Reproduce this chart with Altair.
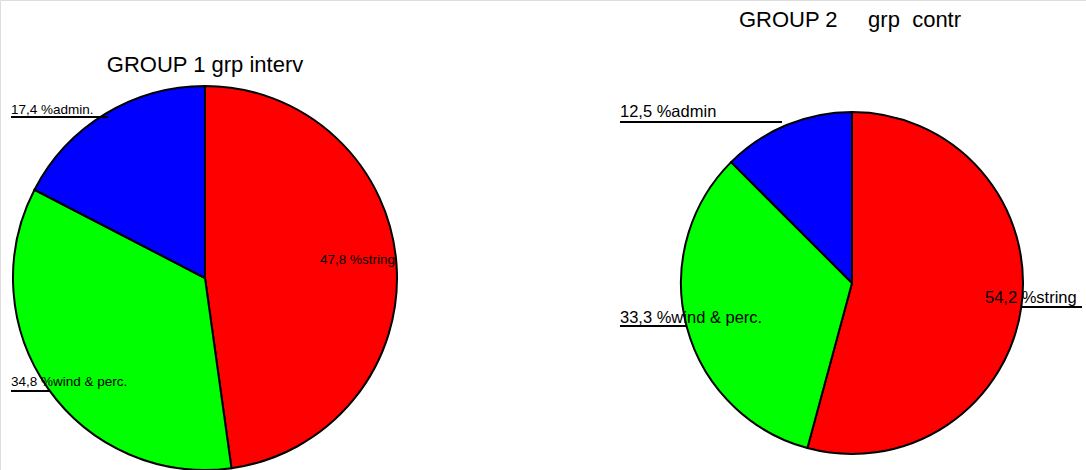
import altair as alt
import pandas as pd

# ---- data ----
categories = ["string", "wind & perc.", "admin"]
group1_values = [47.8, 34.8, 17.4]
group2_values = [54.2, 33.3, 12.5]
group1_labels = ["47,8 %string", "34,8 %wind & perc.", "17,4 %admin."]
group2_labels = ["54,2 %string", "33,3 %wind & perc.", "12,5 %admin"]
titles = ["GROUP 1 grp interv", "GROUP 2\u00a0\u00a0\u00a0\u00a0 grp\u00a0 contr"]
colors = ["#ff0000", "#00ff00", "#0000ff"]

# ---- layout (pixels) ----
W, H = 1086, 470
pie_centers = [(205, 278), (852, 283)]
pie_radius = [192, 171]
title_pos = [(205, 72), (850, 27)]
title_size = 22
label_sizes = [13.5, 16.5]
# label anchor (x, baseline y) per slice
label_pos = [
    [(320, 264), (11, 386), (11, 114)],
    [(985, 303), (620, 323), (620, 117)],
]
# leader rule (x1, x2, y) per slice; None if no visible rule
rule_pos = [
    [None, (11, 50, 391), (11, 108, 117)],
    [(1021, 1082, 307), (620, 686, 326), (620, 782, 122)],
]
FONT = "Liberation Sans"

xs = alt.Scale(domain=[0, W], range=[0, W], nice=False, zero=False)
ys = alt.Scale(domain=[0, H], range=[0, H], nice=False, zero=False)
color_scale = alt.Scale(domain=categories, range=colors)

layers = []
for g, vals in enumerate([group1_values, group2_values]):
    df = pd.DataFrame({"cat": categories, "value": vals, "ord": list(range(len(vals)))})
    cx, cy = pie_centers[g]
    arc = alt.Chart(df).mark_arc(
        radius=pie_radius[g], stroke="black", strokeWidth=2
    ).encode(
        theta=alt.Theta("value:Q", stack=True),
        color=alt.Color("cat:N", scale=color_scale, legend=None),
        order=alt.Order("ord:Q"),
        x=alt.value(cx),
        y=alt.value(cy),
    )
    layers.append(arc)

lab_rows = []
rule_rows = []
for g, labs in enumerate([group1_labels, group2_labels]):
    for i, t in enumerate(labs):
        x, y = label_pos[g][i]
        lab_rows.append({"text": t, "x": x, "y": y, "g": g})
        r = rule_pos[g][i]
        if r is not None:
            rule_rows.append({"x": r[0], "x2": r[1], "y": r[2]})

lab_df = pd.DataFrame(lab_rows)
rule_df = pd.DataFrame(rule_rows)
title_df = pd.DataFrame({"text": titles, "x": [p[0] for p in title_pos], "y": [p[1] for p in title_pos]})

for g in range(2):
    sub = lab_df[lab_df.g == g]
    layers.append(
        alt.Chart(sub).mark_text(
            align="left", baseline="alphabetic", font=FONT, fontSize=label_sizes[g], color="black"
        ).encode(
            x=alt.X("x:Q", scale=xs, axis=None),
            y=alt.Y("y:Q", scale=ys, axis=None),
            text="text:N",
        )
    )

layers.append(
    alt.Chart(rule_df).mark_rule(color="black", strokeWidth=2).encode(
        x=alt.X("x:Q", scale=xs, axis=None),
        x2="x2:Q",
        y=alt.Y("y:Q", scale=ys, axis=None),
    )
)

layers.append(
    alt.Chart(title_df).mark_text(
        align="center", baseline="alphabetic", font=FONT, fontSize=title_size, color="black"
    ).encode(
        x=alt.X("x:Q", scale=xs, axis=None),
        y=alt.Y("y:Q", scale=ys, axis=None),
        text="text:N",
    )
)

chart = alt.layer(*layers).properties(
    width=W, height=H, padding=0, autosize=alt.AutoSizeParams(type="none")
).configure_view(strokeWidth=0).configure(background="white")

chart.save("out.html", embed_options={"renderer": "svg", "actions": False})
